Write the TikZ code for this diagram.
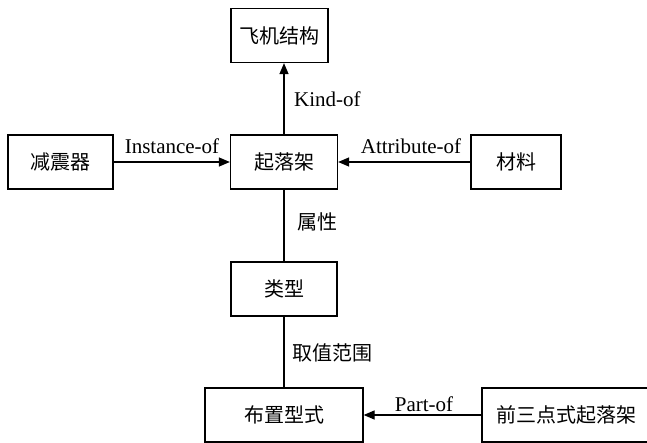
\documentclass[tikz,border=0pt]{standalone}
\usepackage{fontspec}
\setmainfont{Liberation Serif}
\newfontfamily\cjk{Noto Sans CJK SC}
\usetikzlibrary{arrows.meta}
\begin{document}
\begin{tikzpicture}[x=1pt,y=-1pt,
  box/.style={draw, line width=1.3pt, font=\cjk\fontsize{20}{22}\selectfont, inner sep=0pt, minimum height=54pt},
  conn/.style={line width=1.3pt},
  arr/.style={conn, -{Triangle[length=11pt,width=9pt]}},
  lab/.style={font=\fontsize{21}{23}\selectfont, inner sep=0pt},
  clab/.style={font=\cjk\fontsize{20}{22}\selectfont, inner sep=0pt}]
\useasboundingbox (0,0) rectangle (647,443);
\fill[white] (0,0) rectangle (647,443);
\node[box, minimum width=97pt] (fjjg) at (279.5,35.5) {飞机结构};
\node[box, minimum width=105pt] (jzq) at (60.5,162) {减震器};
\node[box, minimum width=107pt] (qlj) at (284,162) {起落架};
\node[box, minimum width=90pt] (cl) at (516,162) {材料};
\node[box, minimum width=106pt] (lx) at (284,289) {类型};
\node[box, minimum width=158pt] (bzxs) at (284,415) {布置型式};
\node[box, minimum width=168pt] (qsd) at (566,415) {前三点式起落架};
\draw[arr] (qlj.north) -- (qlj.north |- fjjg.south);
\draw[arr] (jzq.east) -- (qlj.west);
\draw[arr] (cl.west) -- (qlj.east);
\draw[conn] (qlj.south) -- (lx.north);
\draw[conn] (lx.south) -- (bzxs.north);
\draw[arr] (qsd.west) -- (bzxs.east);
\node[lab, anchor=west] (kind) at (294,99) {Kind-of};
\node[lab] (inst) at (172,146) {Instance-of};
\node[lab] (attr) at (411,146) {Attribute-of};
\node[clab] (sx) at (317,222) {属性};
\node[clab] (qz) at (332,353) {取值范围};
\node[lab] (part) at (424,404) {Part-of};
\end{tikzpicture}
\end{document}
